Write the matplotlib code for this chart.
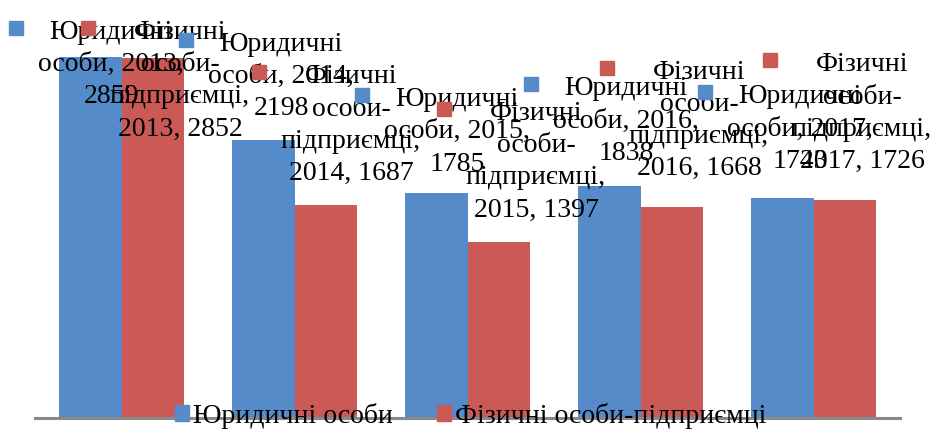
"""Grouped bars: legal entities vs. individual entrepreneurs, 2013-2017.

Excel-style data labels (series name, year, value) with a legend key
in front of each label. Writes out.png.
"""

import matplotlib
matplotlib.use("Agg")
import matplotlib.pyplot as plt
from matplotlib.patches import Rectangle, Patch
from matplotlib.transforms import IdentityTransform
import numpy as np

plt.rcParams.update({
    "font.family": ["Liberation Serif", "DejaVu Serif"],
})

YEARS = ["2013", "2014", "2015", "2016", "2017"]
LEGAL = [2859, 2198, 1785, 1838, 1743]
FOP = [2852, 1687, 1397, 1668, 1726]
SERIES_NAMES = ["Юридичні особи", "Фізичні особи-підприємці"]
# wrapped label text, as the original chart breaks it
LABEL_TEMPLATES = [
    "Юридичні\nособи, {year},\n{value}",
    "Фізичні\nособи-\nпідприємці,\n{year}, {value}",
]

COLORS = ["#558BC9", "#CB5A56"]

# label layout in pixels: shift of text block from bar centre, gap above bar
LABEL_DX = [[21, 18, 21, 17, 18], [27, 25, 37, 27, 17]]
LABEL_GAP = [[25, 25, 22, 26, 30], [25, 25, 25, 32, 32]]

W, H = 932, 429
FS = 20            # ~28 px at 100 dpi
LS = 1.38
DESC = 6           # descent below the digits, px
TOP_MIN = 20       # labels are kept inside the chart area
KEY = 14


def main():
    fig = plt.figure(figsize=(W / 100, H / 100), dpi=100)
    ax = fig.add_axes([35 / W, 11 / H, 865 / W, 418 / H])

    x = np.arange(len(YEARS))
    bw = 0.364
    series = [LEGAL, FOP]
    shifts = [-bw / 2, bw / 2]
    for s, vals in enumerate(series):
        ax.bar(x + shifts[s], vals, width=bw, color=COLORS[s], zorder=2)

    ax.set_xlim(-0.5, len(YEARS) - 0.5)
    ax.set_ylim(0, 3310)
    ax.set_xticks([])
    ax.set_yticks([])
    for side in ("left", "right", "top"):
        ax.spines[side].set_visible(False)
    ax.spines["bottom"].set_color("#898989")
    ax.spines["bottom"].set_linewidth(2.2)
    ax.spines["bottom"].set_zorder(3)

    renderer = fig.canvas.get_renderer()
    for s, vals in enumerate(series):
        for i, v in enumerate(vals):
            dx = LABEL_DX[s][i]
            dy = LABEL_GAP[s][i] - DESC
            txt = ax.annotate(
                LABEL_TEMPLATES[s].format(year=YEARS[i], value=v),
                xy=(x[i] + shifts[s], v), xytext=(dx, dy),
                textcoords="offset pixels", ha="center", va="bottom",
                multialignment="center", fontsize=FS, linespacing=LS,
                annotation_clip=False, zorder=4,
            )
            bb = txt.get_window_extent(renderer)
            top_px = H - bb.y1
            if top_px < TOP_MIN:
                txt.xyann = (dx, dy - (TOP_MIN - top_px))
                bb = txt.get_window_extent(renderer)
            fig.add_artist(Rectangle(
                (bb.x0 - 15 - KEY, bb.y1 - 1 - KEY), KEY, KEY,
                transform=IdentityTransform(), color=COLORS[s], zorder=4,
            ))

    handles = [Patch(color=c, label=n) for c, n in zip(COLORS, SERIES_NAMES)]
    fig.legend(
        handles=handles, loc="center", bbox_to_anchor=(471 / W, 13 / H),
        ncol=2, frameon=False, fontsize=FS, handlelength=0.5,
        handleheight=0.5, handletextpad=0.15, columnspacing=1.6,
        borderpad=0, borderaxespad=0,
    )

    fig.savefig("out.png", dpi=100)


if __name__ == "__main__":
    main()
